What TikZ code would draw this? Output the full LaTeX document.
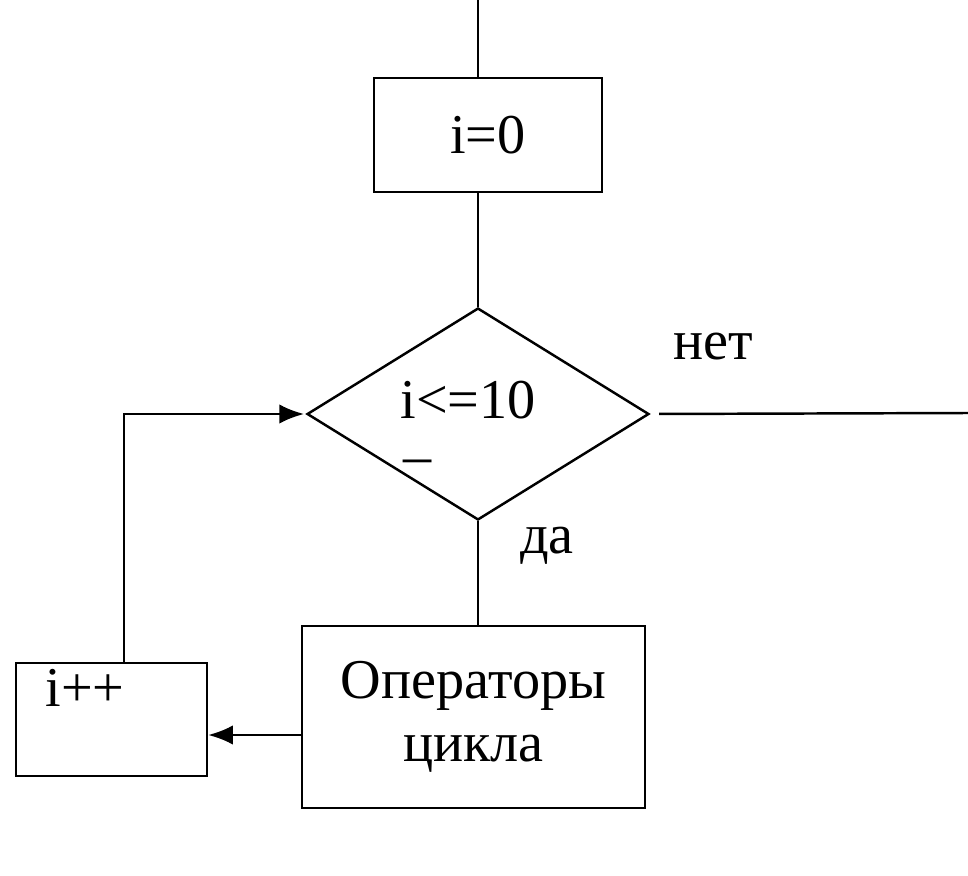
\documentclass[tikz,border=0pt]{standalone}
\usepackage{fontspec}
\setmainfont{Liberation Serif}
\usetikzlibrary{shapes.geometric,arrows.meta}

\begin{document}
\begin{tikzpicture}[x=0.02cm,y=-0.02cm,line width=1.4pt,
  font=\fontsize{32}{36}\selectfont,
  block/.style={draw,rectangle,inner sep=0pt},
  cond/.style={draw,diamond,inner sep=0pt},
  txt/.style={inner sep=0pt},
  arr/.style={-{Latex[length=14pt,width=11pt]}}]
\useasboundingbox (0,0) rectangle (968,876);
% blocks
\node [block,minimum width=4.56cm,minimum height=2.28cm] (init) at (488,135) {i=0};
\node [cond,minimum width=6.84cm,minimum height=4.24cm] (test) at (478,414) {};
\node [txt] (testtxt) at (468,400) {i<=10};
\node [txt] (testdash) at (418,467) {–};
\node [block,minimum width=6.86cm,minimum height=3.64cm,align=center] (body) at (473.5,717) {Операторы\\цикла};
\node [block,minimum width=3.82cm,minimum height=2.26cm] (incr) at (111.5,719.5) {};
\node [txt] (incrtxt) at (85,688) {i++};
% labels
\node [txt] (no) at (713,347) {нет};
\node [txt] (yes) at (547,546) {да};
% free ends
\coordinate (entry) at (478,0);
\coordinate (exit) at (968,413);
\coordinate (loop) at (124,0);
% connectors
\draw (entry) -- (init.north -| entry);
\draw (init.south -| test.north) -- (test.north);
\draw (test.south) -- (body.north -| test.south);
\draw [shorten <=0.18cm] (test.east) -- (exit);
\draw [arr] ([yshift=-0.36cm]body.west) -- ([yshift=-0.36cm]body.west -| incr.east);
\draw [arr,shorten >=1pt] (incr.north -| loop) |- (test.west);
\end{tikzpicture}
\end{document}
